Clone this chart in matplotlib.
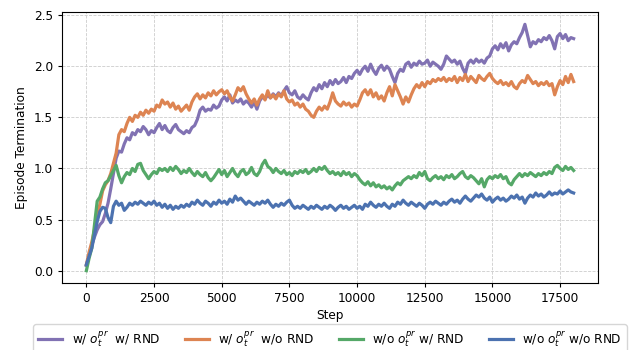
import numpy as np
import matplotlib
matplotlib.use("Agg")
import matplotlib.pyplot as plt

steps = list(range(0, 18001, 100))

purple = [
0.05,0.15,0.25,0.33,0.40,0.45,0.48,0.56,0.66,0.80,
0.95,1.10,1.17,1.16,1.24,1.30,1.28,1.35,1.33,1.38,
1.36,1.41,1.38,1.33,1.37,1.35,1.40,1.44,1.38,1.42,
1.37,1.35,1.40,1.43,1.38,1.36,1.34,1.37,1.35,1.40,
1.42,1.48,1.57,1.60,1.56,1.58,1.57,1.62,1.59,1.61,
1.67,1.70,1.66,1.72,1.64,1.67,1.65,1.68,1.63,1.66,
1.64,1.60,1.65,1.58,1.66,1.70,1.68,1.72,1.69,1.73,
1.70,1.74,1.71,1.76,1.80,1.74,1.72,1.76,1.70,1.68,
1.72,1.69,1.67,1.74,1.79,1.76,1.82,1.78,1.84,1.80,
1.86,1.82,1.87,1.83,1.85,1.89,1.84,1.90,1.88,1.93,
1.96,1.92,1.97,2.00,1.95,2.02,1.96,1.92,1.98,2.01,
1.96,2.00,1.97,1.90,1.84,1.93,1.97,1.95,2.02,2.04,
1.99,2.03,2.01,2.05,2.02,2.03,2.06,2.00,2.04,2.02,
2.00,1.97,2.02,2.10,2.07,2.04,2.06,2.02,2.05,1.98,
1.93,2.03,2.06,2.03,2.07,2.04,2.06,2.03,2.08,2.10,
2.17,2.20,2.16,2.22,2.18,2.23,2.15,2.21,2.24,2.22,
2.28,2.33,2.41,2.30,2.19,2.24,2.22,2.26,2.24,2.28,
2.26,2.30,2.25,2.17,2.29,2.32,2.27,2.31,2.25,2.28,
2.27]

orange = [
0.06,0.18,0.28,0.40,0.55,0.65,0.78,0.84,0.88,0.95,
1.05,1.15,1.33,1.38,1.36,1.44,1.50,1.46,1.52,1.50,
1.55,1.52,1.57,1.54,1.58,1.56,1.62,1.60,1.67,1.63,
1.65,1.60,1.64,1.58,1.61,1.56,1.59,1.62,1.57,1.65,
1.70,1.73,1.68,1.72,1.69,1.74,1.71,1.76,1.72,1.75,
1.77,1.73,1.76,1.70,1.66,1.72,1.79,1.76,1.80,1.73,
1.68,1.64,1.68,1.62,1.68,1.72,1.67,1.76,1.69,1.72,
1.68,1.73,1.70,1.76,1.68,1.65,1.67,1.62,1.64,1.60,
1.63,1.58,1.56,1.52,1.50,1.56,1.60,1.57,1.61,1.58,
1.65,1.74,1.66,1.63,1.61,1.65,1.62,1.64,1.60,1.63,
1.61,1.67,1.74,1.77,1.72,1.77,1.70,1.74,1.68,1.71,
1.66,1.74,1.80,1.71,1.82,1.76,1.70,1.63,1.70,1.65,
1.72,1.78,1.82,1.79,1.84,1.80,1.85,1.83,1.87,1.85,
1.88,1.86,1.89,1.85,1.88,1.86,1.90,1.84,1.89,1.86,
1.92,1.85,1.90,1.87,1.84,1.91,1.88,1.86,1.90,1.93,
1.88,1.85,1.83,1.86,1.82,1.84,1.81,1.85,1.80,1.78,
1.83,1.86,1.84,1.91,1.87,1.83,1.85,1.81,1.84,1.82,
1.85,1.81,1.83,1.72,1.80,1.86,1.82,1.90,1.84,1.92,
1.85]

green = [
0.00,0.12,0.22,0.45,0.68,0.72,0.80,0.86,0.88,0.93,
0.98,1.03,0.93,0.86,0.92,0.96,0.94,1.00,0.97,1.04,
1.05,0.98,0.94,0.90,0.94,0.97,0.95,1.00,0.98,1.00,
0.97,1.01,0.98,1.02,0.99,0.95,0.98,0.96,1.00,0.96,
0.93,0.97,0.94,0.92,0.96,0.91,0.88,0.91,0.95,0.99,
0.94,0.98,0.92,0.96,1.00,0.95,0.92,0.97,0.99,0.94,
0.96,1.01,0.95,0.93,0.97,1.04,1.08,1.02,1.00,0.96,
1.00,0.97,0.95,0.98,0.94,0.96,0.93,0.97,0.95,0.98,
0.96,0.99,0.95,0.97,1.00,0.97,1.01,0.99,1.02,0.98,
0.95,0.97,0.94,0.96,0.93,0.97,0.94,0.96,0.92,0.95,
0.93,0.89,0.86,0.84,0.87,0.83,0.86,0.82,0.84,0.81,
0.83,0.80,0.82,0.79,0.83,0.86,0.84,0.88,0.90,0.92,
0.90,0.93,0.91,0.96,0.93,0.97,0.90,0.88,0.91,0.93,
0.90,0.92,0.89,0.93,0.91,0.94,0.90,0.92,0.95,0.97,
0.92,0.90,0.93,0.91,0.88,0.85,0.90,0.82,0.89,0.92,
0.90,0.93,0.91,0.94,0.90,0.92,0.86,0.84,0.89,0.92,
0.95,0.92,0.95,0.93,0.96,0.94,0.92,0.95,0.93,0.96,
0.94,0.97,0.95,1.01,1.03,1.00,0.98,1.02,0.99,1.01,
0.98]

blue = [
0.06,0.14,0.22,0.35,0.48,0.58,0.62,0.61,0.52,0.47,
0.63,0.68,0.64,0.66,0.59,0.62,0.66,0.64,0.67,0.65,
0.68,0.66,0.64,0.67,0.65,0.68,0.64,0.66,0.62,0.65,
0.61,0.64,0.60,0.63,0.61,0.64,0.62,0.65,0.63,0.67,
0.65,0.69,0.66,0.64,0.68,0.66,0.63,0.67,0.65,0.69,
0.66,0.68,0.65,0.70,0.67,0.73,0.69,0.71,0.68,0.65,
0.68,0.66,0.64,0.67,0.65,0.68,0.66,0.69,0.65,0.62,
0.65,0.63,0.66,0.64,0.67,0.69,0.64,0.61,0.63,0.61,
0.64,0.62,0.60,0.63,0.61,0.64,0.62,0.60,0.63,0.61,
0.64,0.62,0.59,0.62,0.64,0.61,0.63,0.60,0.62,0.64,
0.61,0.63,0.60,0.65,0.63,0.67,0.64,0.62,0.65,0.63,
0.66,0.63,0.61,0.65,0.63,0.67,0.65,0.69,0.66,0.64,
0.67,0.65,0.63,0.66,0.64,0.61,0.65,0.67,0.65,0.68,
0.66,0.64,0.67,0.65,0.68,0.70,0.67,0.69,0.66,0.70,
0.73,0.70,0.68,0.71,0.74,0.72,0.75,0.71,0.69,0.72,
0.67,0.70,0.72,0.69,0.71,0.68,0.70,0.73,0.71,0.74,
0.70,0.72,0.66,0.71,0.74,0.72,0.76,0.73,0.75,0.72,
0.74,0.77,0.74,0.76,0.75,0.78,0.75,0.77,0.79,0.77,
0.76]

labels = [r"w/ $o_t^{pr}$  w/ RND", r"w/ $o_t^{pr}$  w/o RND",
          r"w/o $o_t^{pr}$ w/ RND", r"w/o $o_t^{pr}$ w/o RND"]
colors = ["#8172B3", "#DD8452", "#55A868", "#4C72B0"]
series = [purple, orange, green, blue]

plt.rcParams['font.size'] = 8.7
plt.rcParams['xtick.major.size'] = 3.0
plt.rcParams['ytick.major.size'] = 3.0

fig = plt.figure(figsize=(6.37, 3.5), dpi=100)
ax = fig.add_axes([62/637, 1-283/350, (598-62)/637, (283-12)/350])
for s, c, l in zip(series, colors, labels):
    ax.plot(steps, s, color=c, lw=2.3, label=l)

ax.grid(True, linestyle='--', color='#cccccc', linewidth=0.6)
ax.set_xlabel("Step", labelpad=3)
ax.set_ylabel("Episode Termination")
ax.set_xticks([0, 2500, 5000, 7500, 10000, 12500, 15000, 17500])
ax.set_yticks([0.0, 0.5, 1.0, 1.5, 2.0, 2.5])
ax.legend(loc='upper center', bbox_to_anchor=(0.5, -0.13), ncol=4,
          frameon=True, fontsize=8.7)
fig.savefig("out.png", dpi=100)
